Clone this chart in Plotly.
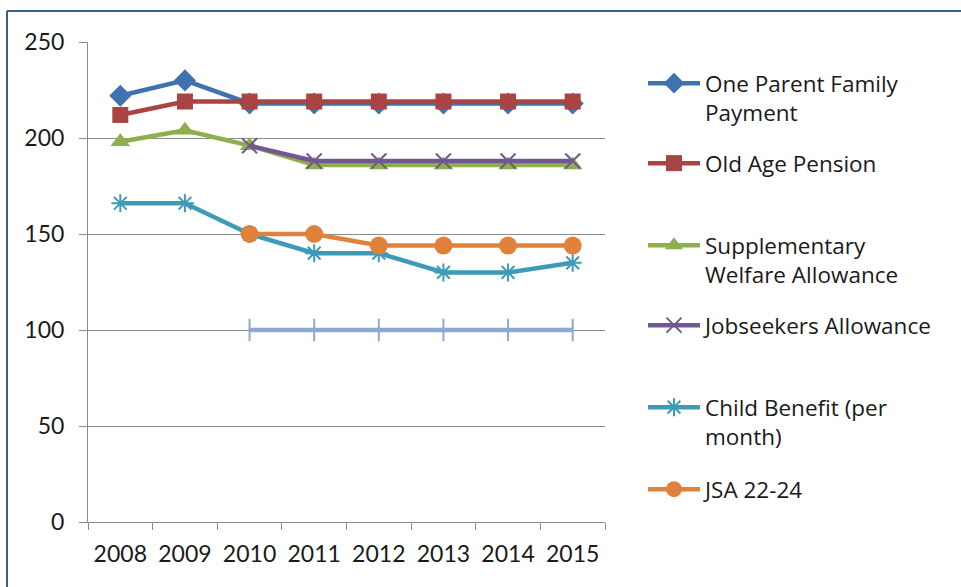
import plotly.graph_objects as go

years = ["2008", "2009", "2010", "2011", "2012", "2013", "2014", "2015"]

one_parent = [222, 230, 218, 218, 218, 218, 218, 218]
old_age = [212, 219, 219, 219, 219, 219, 219, 219]
supp_welfare = [198, 204, 196, 186, 186, 186, 186, 186]
jobseekers = [None, None, 196, 188, 188, 188, 188, 188]
child_benefit = [166, 166, 150, 140, 140, 130, 130, 135]
jsa_22_24 = [None, None, 150, 150, 144, 144, 144, 144]
jsa_18_21 = [None, None, 100, 100, 100, 100, 100, 100]

y_ticks = [0, 50, 100, 150, 200, 250]

FONT = "Lato"
LFONT = "Open Sans"
TXT = "#1a1a1a"

series = [
    ("One Parent Family<br>Payment", one_parent, "#3F72AF", dict(symbol="diamond", size=17), "legend"),
    ("Old Age Pension", old_age, "#A94442", dict(symbol="square", size=16), "legend2"),
    ("Supplementary<br>Welfare Allowance", supp_welfare, "#8DB04C", dict(symbol="triangle-up", size=17), "legend3"),
    ("Jobseekers Allowance", jobseekers, "#71588F", dict(symbol="x-thin-open", size=15, line=dict(width=2, color="#71588F")), "legend4"),
    ("Child Benefit (per<br>month)", child_benefit, "#3E9BB5", dict(symbol="asterisk-open", size=15, line=dict(width=2, color="#3E9BB5")), "legend5"),
    ("JSA 22-24", jsa_22_24, "#E0823C", dict(symbol="circle", size=18), "legend6"),
]

fig = go.Figure()
for name, vals, color, mk, lg in series:
    fig.add_trace(go.Scatter(
        x=years, y=vals, name=name, mode="lines+markers",
        line=dict(color=color, width=4.5),
        marker=dict(color=color, **mk),
        legend=lg,
    ))

fig.add_trace(go.Scatter(
    x=years, y=jsa_18_21, name="JSA 18-21", mode="lines+markers",
    line=dict(color="#8FA8D0", width=4.5),
    marker=dict(symbol="line-ns-open", size=16, color="#8FA8D0", line=dict(width=2, color="#8FA8D0")),
    showlegend=False,
))

L, R, T, B = 88, 605, 42, 522
W, H = 961, 587
pw, ph = R - L, B - T

def px(x):
    return (x - L) / pw

def py(y):
    return (B - y) / ph

legend_common = dict(
    font=dict(family=LFONT, size=22.5, color=TXT),
    bgcolor="rgba(0,0,0,0)", borderwidth=0,
    xanchor="left", yanchor="top", valign="top",
    itemwidth=52, itemclick=False,
)
marker_rows = [82, 162, 244, 324, 406, 488]
layout_legends = {}
for i, yr in enumerate(marker_rows):
    key = "legend" if i == 0 else f"legend{i+1}"
    layout_legends[key] = dict(legend_common, x=px(643), y=py(yr - 20))

fig.update_layout(
    width=W, height=H,
    margin=dict(l=L, r=W - R, t=T, b=H - B),
    paper_bgcolor="white", plot_bgcolor="white",
    font=dict(family=FONT, size=20, color=TXT),
    showlegend=True,
    xaxis=dict(
        type="category", range=[-0.5, 7.5],
        showgrid=False, showline=True, linecolor="#8c8c8c", linewidth=1,
        ticks="outside", tickson="boundaries", ticklen=7, tickcolor="#8c8c8c",
        tickfont=dict(family=FONT, size=23, color=TXT),
        ticklabelstandoff=11,
        fixedrange=True,
    ),
    yaxis=dict(
        range=[0, 250], tickvals=y_ticks,
        showgrid=True, gridcolor="#8c8c8c", gridwidth=1,
        showline=True, linecolor="#8c8c8c", linewidth=1,
        ticks="outside", ticklen=8, tickcolor="#8c8c8c",
        tickfont=dict(family=FONT, size=23, color=TXT),
        ticklabelstandoff=10,
        zeroline=False, fixedrange=True,
    ),
    shapes=[
        dict(type="line", xref="paper", yref="paper", x0=px(7), x1=px(7), y0=py(11), y1=py(600),
             line=dict(color="#3B5F8C", width=2)),
        dict(type="line", xref="paper", yref="paper", x0=px(7), x1=px(970), y0=py(11), y1=py(11),
             line=dict(color="#3B5F8C", width=2)),
    ],
    **layout_legends,
)

fig.write_html("out.html")
